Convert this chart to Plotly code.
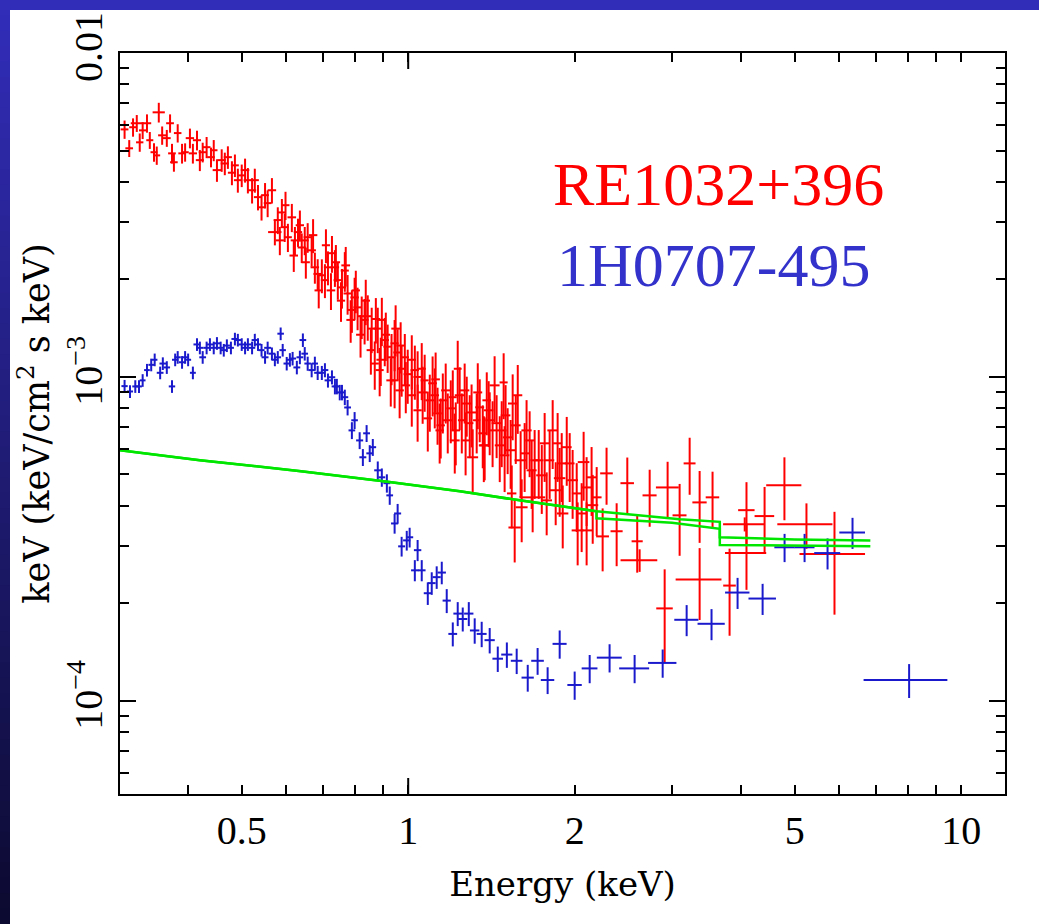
import math
import plotly.graph_objects as go

# ---------------- data ----------------
red_energy = [
    0.307, 0.313, 0.318, 0.323, 0.327, 0.331, 0.337, 0.341, 0.347, 0.351,
    0.354, 0.359, 0.366, 0.371, 0.374, 0.377, 0.383, 0.390, 0.395, 0.403,
    0.408, 0.415, 0.420, 0.425, 0.432, 0.440, 0.445, 0.451, 0.460, 0.466,
    0.472, 0.480, 0.486, 0.492, 0.500, 0.507, 0.513, 0.522, 0.528, 0.535,
    0.543, 0.551, 0.557, 0.567, 0.574, 0.581, 0.591, 0.598, 0.606, 0.616,
    0.624, 0.632, 0.642, 0.650, 0.658, 0.669, 0.678, 0.686, 0.698, 0.707,
    0.716, 0.728, 0.737, 0.746, 0.759, 0.768, 0.777, 0.791, 0.800, 0.810,
    0.824, 0.834, 0.845, 0.859, 0.870, 0.881, 0.896, 0.907, 0.918, 0.933,
    0.945, 0.957, 0.973, 0.986, 0.998, 1.015, 1.028, 1.040, 1.058, 1.071,
    1.094, 1.107, 1.130, 1.155, 1.179, 1.204, 1.229, 1.250, 1.276, 1.292,
    1.308, 1.330, 1.347, 1.364, 1.387, 1.404, 1.421, 1.445, 1.476, 1.488,
    1.513, 1.545, 1.578, 1.597, 1.624, 1.658, 1.693, 1.722, 1.765, 1.802,
    1.863, 1.895, 1.935, 1.959, 2.017, 2.059, 2.102, 2.146, 2.192,
    1.539, 1.604, 1.558, 1.679, 1.780, 1.848, 1.903, 2.025, 2.102, 2.247, 2.382,
    2.284, 2.490, 2.595, 2.621, 2.733, 2.909, 2.945, 3.096, 3.228, 3.365,
    3.365, 3.551, 3.812, 4.09, 4.09, 4.41, 4.79, 5.25, 5.90, 4.06,
    1.214, 1.265, 1.494, 1.375, 1.140, 1.117,
    0.888, 0.945, 0.965,
    1.015, 1.040, 1.062, 1.085, 1.121, 1.145, 1.169, 1.194, 1.219, 1.239,
    1.270, 1.302, 1.336, 1.370, 1.398, 1.433, 1.464, 1.500, 1.532, 1.565,
    1.637, 1.672, 1.744, 1.825, 1.879, 1.983, 2.076, 2.156,
    0.725, 0.740, 0.756, 0.771, 0.787, 0.804, 0.820, 0.838, 0.856, 0.874,
    0.892, 0.911, 0.930, 0.949, 0.969, 0.990,
    0.586, 0.600, 0.621, 0.637, 0.653, 0.673, 0.689, 0.710,
]
red_flux = [
    0.00581, 0.00508, 0.00590, 0.00607, 0.00530, 0.00577, 0.00607, 0.00538, 0.00494, 0.00483,
    0.00656, 0.00557, 0.00546, 0.00607, 0.00490, 0.00460, 0.00566, 0.00490, 0.00494, 0.00546,
    0.00490, 0.00538, 0.00467, 0.00494, 0.00512, 0.00477, 0.00501, 0.00435, 0.00467, 0.00456,
    0.00477, 0.00427, 0.00450, 0.00405, 0.00419, 0.00435, 0.00405, 0.00377, 0.00405, 0.00359,
    0.00334, 0.00364, 0.00344, 0.00377, 0.00280, 0.00305, 0.00322, 0.00290, 0.00270, 0.00311,
    0.00264, 0.00280, 0.00251, 0.00264, 0.00270, 0.00246, 0.00218, 0.00208, 0.00206, 0.00199,
    0.00218, 0.00241, 0.00218, 0.00199, 0.00189, 0.00213, 0.00181, 0.00161, 0.00176, 0.00164,
    0.00154, 0.00150, 0.00154, 0.00141, 0.00110, 0.00141, 0.00150, 0.00130, 0.00124, 0.00115,
    0.00127, 0.00119, 0.00106, 0.00115, 0.00102, 0.00113, 0.00105, 0.00100, 0.00106, 0.000976,
    0.000847, 0.000956, 0.000772, 0.000847, 0.000735, 0.000866, 0.00106, 0.000735, 0.000828, 0.000720,
    0.000565, 0.000735, 0.000806, 0.000670, 0.000847, 0.000735, 0.000684, 0.000720, 0.000684, 0.000962,
    0.000651, 0.000828, 0.000878, 0.000553, 0.000581, 0.000637, 0.000553, 0.000553, 0.000624, 0.000553,
    0.000624, 0.000541, 0.000607, 0.000541, 0.000437, 0.000379, 0.000456, 0.000490, 0.000425,
    0.000437, 0.000396, 0.000343, 0.000425, 0.000416, 0.000447, 0.000379, 0.000336, 0.000336, 0.000322, 0.000334,
    0.000504, 0.000470, 0.000311, 0.000272, 0.000431, 0.000193, 0.000456, 0.000374, 0.000541, 0.000410,
    0.000237, 0.000425, 0.000227, 0.000388, 0.000286, 0.000372, 0.000463, 0.000351, 0.000284, 0.000351,
    0.000637, 0.000909, 0.000573, 0.000615, 0.000684, 0.000878,
    0.00105, 0.000976, 0.000909,
    0.000878, 0.000789, 0.000896, 0.000745, 0.000983, 0.000709, 0.000909, 0.000800, 0.000684, 0.000878,
    0.000637, 0.000777, 0.000896, 0.000615, 0.000789, 0.000942, 0.000615, 0.000761, 0.000594, 0.000709,
    0.000684, 0.000515, 0.000497, 0.000684, 0.000487, 0.000480, 0.000546, 0.000402,
    0.00185, 0.00226, 0.00172, 0.00221, 0.00150, 0.00185, 0.00135, 0.00172, 0.00121, 0.00151,
    0.00113, 0.00135, 0.000976, 0.00141, 0.00125, 0.000942,
    0.00264, 0.00339, 0.00237, 0.00294, 0.00226, 0.00274, 0.00185, 0.00255,
]
red_energy_err = [
    0.005, 0.005, 0.005, 0.008, 0.005, 0.005, 0.006, 0.005, 0.005, 0.005,
    0.009, 0.006, 0.006, 0.006, 0.006, 0.006, 0.006, 0.006, 0.006, 0.007,
    0.007, 0.007, 0.007, 0.007, 0.007, 0.007, 0.007, 0.008, 0.008, 0.008,
    0.008, 0.008, 0.008, 0.008, 0.008, 0.009, 0.009, 0.009, 0.009, 0.009,
    0.009, 0.009, 0.009, 0.010, 0.016, 0.010, 0.010, 0.010, 0.010, 0.011,
    0.011, 0.011, 0.011, 0.011, 0.011, 0.012, 0.012, 0.012, 0.012, 0.012,
    0.012, 0.013, 0.013, 0.013, 0.013, 0.013, 0.013, 0.014, 0.014, 0.014,
    0.014, 0.014, 0.015, 0.015, 0.015, 0.015, 0.016, 0.016, 0.016, 0.016,
    0.016, 0.017, 0.017, 0.017, 0.017, 0.018, 0.018, 0.018, 0.018, 0.018,
    0.02, 0.02, 0.02, 0.02, 0.025, 0.02, 0.02, 0.02, 0.025, 0.02,
    0.03, 0.02, 0.025, 0.025, 0.025, 0.025, 0.025, 0.03, 0.03, 0.025,
    0.03, 0.03, 0.03, 0.04, 0.03, 0.03, 0.03, 0.035, 0.035, 0.035,
    0.035, 0.035, 0.04, 0.04, 0.04, 0.04, 0.04, 0.045, 0.045,
    0.03, 0.04, 0.04, 0.09, 0.04, 0.045, 0.045, 0.05, 0.05, 0.06, 0.06,
    0.06, 0.07, 0.06, 0.2, 0.08, 0.1, 0.14, 0.09, 0.08, 0.1,
    0.32, 0.1, 0.1, 0.14, 0.35, 0.18, 0.35, 0.6, 0.8, 0.35,
    0.025, 0.025, 0.03, 0.03, 0.02, 0.02,
    0.015, 0.016, 0.017,
    0.018, 0.018, 0.02, 0.02, 0.02, 0.02, 0.022, 0.022, 0.022, 0.025,
    0.025, 0.025, 0.025, 0.028, 0.028, 0.03, 0.03, 0.03, 0.032, 0.032,
    0.035, 0.035, 0.04, 0.04, 0.045, 0.045, 0.05, 0.05,
    0.013, 0.013, 0.013, 0.014, 0.014, 0.014, 0.015, 0.015, 0.015, 0.016,
    0.016, 0.016, 0.017, 0.017, 0.017, 0.018,
    0.010, 0.010, 0.011, 0.011, 0.011, 0.012, 0.012, 0.012,
]
red_flux_relerr = [
    0.065, 0.06, 0.065, 0.06, 0.065, 0.06, 0.065, 0.06, 0.065, 0.065,
    0.07, 0.065, 0.06, 0.065, 0.07, 0.065, 0.065, 0.07, 0.065, 0.07,
    0.07, 0.07, 0.075, 0.07, 0.075, 0.07, 0.075, 0.08, 0.08, 0.08,
    0.08, 0.085, 0.08, 0.085, 0.08, 0.085, 0.09, 0.09, 0.085, 0.09,
    0.09, 0.09, 0.095, 0.09, 0.09, 0.095, 0.1, 0.1, 0.1, 0.1,
    0.1, 0.1, 0.105, 0.1, 0.105, 0.11, 0.11, 0.11, 0.12, 0.12,
    0.12, 0.13, 0.13, 0.13, 0.14, 0.14, 0.14, 0.15, 0.15, 0.15,
    0.15, 0.16, 0.16, 0.16, 0.17, 0.16, 0.17, 0.17, 0.17, 0.18,
    0.18, 0.18, 0.18, 0.18, 0.19, 0.19, 0.19, 0.2, 0.2, 0.2,
    0.2, 0.21, 0.2, 0.21, 0.21, 0.21, 0.22, 0.21, 0.21, 0.22,
    0.22, 0.21, 0.22, 0.22, 0.22, 0.22, 0.23, 0.22, 0.23, 0.23,
    0.23, 0.23, 0.24, 0.23, 0.24, 0.23, 0.24, 0.24, 0.24, 0.24,
    0.24, 0.24, 0.24, 0.24, 0.24, 0.24, 0.24, 0.24, 0.24,
    0.22, 0.22, 0.22, 0.22, 0.22, 0.22, 0.22, 0.22, 0.22, 0.22, 0.22,
    0.2, 0.2, 0.2, 0.08, 0.2, 0.32, 0.2, 0.25, 0.2, 0.25,
    0.25, 0.2, 0.3, 0.22, 0.23, 0.23, 0.22, 0.16, 0.35, 0.05,
    0.21, 0.21, 0.23, 0.22, 0.21, 0.21,
    0.17, 0.18, 0.18,
    0.2, 0.2, 0.2, 0.21, 0.21, 0.21, 0.21, 0.22, 0.22, 0.22,
    0.22, 0.22, 0.23, 0.23, 0.23, 0.23, 0.23, 0.24, 0.24, 0.24,
    0.24, 0.24, 0.24, 0.24, 0.24, 0.24, 0.24, 0.24,
    0.13, 0.13, 0.14, 0.14, 0.15, 0.15, 0.15, 0.16, 0.16, 0.16,
    0.17, 0.17, 0.17, 0.18, 0.18, 0.18,
    0.1, 0.1, 0.11, 0.11, 0.11, 0.12, 0.12, 0.12,
]

blue_energy = [
    0.307, 0.314, 0.321, 0.326, 0.331, 0.337, 0.343, 0.348, 0.356, 0.360,
    0.366, 0.374, 0.379, 0.383, 0.390, 0.395, 0.400, 0.408, 0.415, 0.420,
    0.425, 0.432, 0.438, 0.445, 0.451, 0.458, 0.464, 0.470, 0.478, 0.486,
    0.492, 0.500, 0.507, 0.513, 0.522, 0.528, 0.535, 0.543, 0.551, 0.557,
    0.567, 0.574, 0.581, 0.588, 0.593, 0.603, 0.611, 0.618, 0.629, 0.637,
    0.645, 0.650, 0.658, 0.669, 0.678, 0.686, 0.698, 0.707, 0.716, 0.728,
    0.737, 0.743, 0.752, 0.759, 0.768, 0.777, 0.791, 0.800, 0.817, 0.828,
    0.841, 0.852, 0.863, 0.881, 0.896, 0.915, 0.926, 0.945, 0.957, 0.973,
    0.994, 1.006, 1.028, 1.040, 1.058, 1.085, 1.103, 1.126, 1.150, 1.174,
    1.204, 1.229, 1.255, 1.287, 1.319, 1.358, 1.404, 1.452, 1.508, 1.571,
    1.645, 1.714, 1.787, 1.879, 2.000, 2.129, 2.313, 2.567, 2.885, 3.188,
    3.536, 3.941, 4.374, 4.793, 5.209, 5.732, 6.360, 8.05,
]
blue_flux = [
    0.000937, 0.000902, 0.000935, 0.000935, 0.000976, 0.00105, 0.00109, 0.00113, 0.00103, 0.00110,
    0.00107, 0.000935, 0.00113, 0.00115, 0.00111, 0.00115, 0.00113, 0.00103, 0.00126, 0.00123,
    0.00115, 0.00123, 0.00126, 0.00123, 0.00127, 0.00123, 0.00121, 0.00125, 0.00123, 0.00131,
    0.00130, 0.00126, 0.00123, 0.00126, 0.00123, 0.00130, 0.00126, 0.00121, 0.00115, 0.00123,
    0.00118, 0.00113, 0.00115, 0.00136, 0.00121, 0.00110, 0.00113, 0.00114, 0.00107, 0.00115,
    0.00130, 0.00118, 0.00110, 0.00105, 0.00110, 0.00103, 0.00103, 0.00105, 0.000976, 0.000998,
    0.000935, 0.000935, 0.000896, 0.000896, 0.000866, 0.000805, 0.000684, 0.000735, 0.000637, 0.000565,
    0.000670, 0.000581, 0.000607, 0.000515, 0.000490, 0.000470, 0.000431, 0.000353, 0.000379, 0.000300,
    0.000313, 0.000320, 0.000253, 0.000292, 0.000253, 0.000215, 0.000231, 0.000241, 0.000249, 0.000204,
    0.000161, 0.000186, 0.000179, 0.000186, 0.000165, 0.000161, 0.000154, 0.000135, 0.000139, 0.000133,
    0.000118, 0.000133, 0.000116, 0.000150, 0.000112, 0.000126, 0.000136, 0.000126, 0.000131, 0.000178,
    0.000173, 0.000216, 0.000207, 0.000298, 0.000298, 0.000286, 0.000331, 0.000116,
]
blue_energy_err = [
    0.004, 0.004, 0.004, 0.004, 0.004, 0.004, 0.004, 0.004, 0.005, 0.005,
    0.005, 0.005, 0.005, 0.005, 0.005, 0.005, 0.005, 0.005, 0.006, 0.006,
    0.006, 0.006, 0.006, 0.006, 0.006, 0.006, 0.006, 0.006, 0.006, 0.007,
    0.007, 0.007, 0.007, 0.007, 0.007, 0.007, 0.007, 0.007, 0.008, 0.008,
    0.008, 0.008, 0.008, 0.008, 0.008, 0.008, 0.008, 0.009, 0.009, 0.009,
    0.009, 0.009, 0.009, 0.009, 0.009, 0.010, 0.010, 0.010, 0.010, 0.010,
    0.010, 0.010, 0.010, 0.010, 0.011, 0.011, 0.011, 0.011, 0.012, 0.012,
    0.012, 0.012, 0.012, 0.013, 0.013, 0.013, 0.013, 0.014, 0.014, 0.014,
    0.015, 0.015, 0.016, 0.016, 0.017, 0.018, 0.018, 0.019, 0.020, 0.020,
    0.022, 0.022, 0.024, 0.025, 0.026, 0.028, 0.030, 0.032, 0.035, 0.038,
    0.042, 0.045, 0.050, 0.055, 0.060, 0.070, 0.12, 0.16, 0.17, 0.16,
    0.20, 0.20, 0.25, 0.20, 0.22, 0.31, 0.34, 1.39,
]
blue_flux_relerr = [
    0.045, 0.045, 0.045, 0.045, 0.045, 0.045, 0.045, 0.045, 0.045, 0.045,
    0.045, 0.045, 0.045, 0.045, 0.045, 0.045, 0.045, 0.045, 0.045, 0.045,
    0.045, 0.045, 0.045, 0.045, 0.045, 0.045, 0.045, 0.045, 0.045, 0.045,
    0.045, 0.045, 0.045, 0.045, 0.045, 0.045, 0.045, 0.045, 0.045, 0.045,
    0.045, 0.045, 0.045, 0.045, 0.045, 0.048, 0.048, 0.048, 0.048, 0.048,
    0.048, 0.048, 0.050, 0.050, 0.050, 0.050, 0.050, 0.050, 0.050, 0.050,
    0.055, 0.055, 0.055, 0.055, 0.055, 0.055, 0.060, 0.060, 0.060, 0.060,
    0.060, 0.060, 0.060, 0.065, 0.065, 0.065, 0.065, 0.070, 0.070, 0.070,
    0.070, 0.070, 0.075, 0.075, 0.075, 0.080, 0.080, 0.080, 0.080, 0.085,
    0.085, 0.085, 0.085, 0.085, 0.090, 0.090, 0.090, 0.090, 0.090, 0.090,
    0.095, 0.095, 0.095, 0.10, 0.10, 0.10, 0.10, 0.10, 0.10, 0.11,
    0.11, 0.11, 0.11, 0.10, 0.10, 0.11, 0.11, 0.12,
]

model_a_energy = [0.30, 0.42, 0.64, 0.91, 1.24, 1.59, 2.19, 2.60, 3.10, 3.66, 3.66, 5.0, 6.85]
model_a_flux = [0.000594, 0.000553, 0.000512, 0.000476, 0.000444, 0.000416, 0.000385,
                0.000374, 0.000364, 0.000357, 0.000320, 0.000315, 0.000313]
model_b_energy = [0.30, 0.42, 0.64, 0.91, 1.24, 1.59, 2.19, 2.19, 3.0, 3.66, 3.66, 5.0, 6.85]
model_b_flux = [0.000594, 0.000553, 0.000512, 0.000476, 0.000444, 0.000416, 0.000385,
                0.000366, 0.000355, 0.000340, 0.000303, 0.000301, 0.000300]

x_tick_values = [0.5, 1, 2, 5, 10]
x_tick_labels = ["0.5", "1", "2", "5", "10"]
x_minor_values = [0.4, 0.6, 0.7, 0.8, 0.9, 3, 4, 6, 7, 8, 9]
x_decades = [1, 10]
y_tick_values = [1e-4, 1e-3, 1e-2]
y_tick_labels = ["10<sup>\u22124</sup>", "10<sup>\u22123</sup>", "0.01"]
y_minor_values = [5e-5, 6e-5, 7e-5, 8e-5, 9e-5,
                  2e-4, 3e-4, 4e-4, 5e-4, 6e-4, 7e-4, 8e-4, 9e-4,
                  2e-3, 3e-3, 4e-3, 5e-3, 6e-3, 7e-3, 8e-3, 9e-3]

# ---------------- layout constants ----------------
W, H = 1039, 924
ML, MR, MT, MB = 120, 34, 53, 130
PW, PH = W - ML - MR, H - MT - MB

RED = "#ff0000"
BLUE = "#1a1acc"
GREEN = "#00e600"
LABEL_BLUE = "#3333cc"


def px_x(px):
    return (px - ML) / PW


def px_y(py):
    return 1 - (py - MT) / PH


fig = go.Figure()


def add_series(energy, flux, eerr, ferr, color):
    up = [f * r for f, r in zip(flux, ferr)]
    fig.add_trace(go.Scatter(
        x=energy, y=flux, mode="markers",
        marker=dict(size=1, color=color),
        error_x=dict(type="data", array=eerr, color=color, thickness=2, width=0),
        error_y=dict(type="data", array=up, arrayminus=up, color=color, thickness=2, width=0),
        showlegend=False, hoverinfo="skip",
    ))


add_series(red_energy, red_flux, red_energy_err, red_flux_relerr, RED)
add_series(blue_energy, blue_flux, blue_energy_err, blue_flux_relerr, BLUE)

for ex, fy in ((model_a_energy, model_a_flux), (model_b_energy, model_b_flux)):
    fig.add_trace(go.Scatter(x=ex, y=fy, mode="lines",
                             line=dict(color=GREEN, width=2.5),
                             showlegend=False, hoverinfo="skip"))

shapes = []
# blue slide border: top band and left gradient strip
shapes.append(dict(type="rect", xref="paper", yref="paper", layer="below",
                   x0=px_x(0), x1=px_x(W), y0=px_y(0), y1=px_y(10),
                   line=dict(width=0), fillcolor="rgb(50,45,185)"))
N = 60
c0 = (50, 45, 185)
c1 = (12, 10, 48)
for i in range(N):
    t = i / (N - 1)
    col = tuple(round(c0[k] + (c1[k] - c0[k]) * t) for k in range(3))
    shapes.append(dict(type="rect", xref="paper", yref="paper", layer="below",
                       x0=px_x(0), x1=px_x(10),
                       y0=px_y(H * i / N), y1=px_y(H * (i + 1) / N + 1),
                       line=dict(width=0), fillcolor="rgb(%d,%d,%d)" % col))
# long decade ticks on x axis (bottom and top)
for v in x_decades:
    lv = math.log10(v)
    shapes.append(dict(type="line", xref="x", yref="paper", ysizemode="pixel",
                       yanchor=0, x0=lv, x1=lv, y0=0, y1=16,
                       line=dict(color="black", width=2)))
    shapes.append(dict(type="line", xref="x", yref="paper", ysizemode="pixel",
                       yanchor=1, x0=lv, x1=lv, y0=0, y1=-16,
                       line=dict(color="black", width=2)))

axis_common = dict(
    showline=True, linecolor="black", linewidth=2, mirror="ticks",
    ticks="inside", tickcolor="black", tickwidth=2,
    showgrid=False, zeroline=False, automargin=False,
    tickfont=dict(family="Liberation Serif", size=40, color="black"),
)

fig.update_layout(
    template="none",
    width=W, height=H,
    font=dict(family="Liberation Serif", size=40, color="black"),
    margin=dict(l=ML, r=MR, t=MT, b=MB, pad=0),
    paper_bgcolor="white", plot_bgcolor="white",
    shapes=shapes,
    xaxis=dict(
        type="log", range=[math.log10(0.3012), math.log10(12.0)],
        tickmode="array", tickvals=x_tick_values, ticktext=x_tick_labels,
        ticklen=9,
        minor=dict(ticks="inside", ticklen=9, tickwidth=2, tickcolor="black",
                   tickmode="array", tickvals=x_minor_values, showgrid=False),
        title=dict(text="Energy (keV)", standoff=20,
                   font=dict(family="DejaVu Serif", size=34, color="black")),
        **axis_common,
    ),
    yaxis=dict(
        type="log", range=[math.log10(5.16e-5), -2],
        tickmode="array", tickvals=y_tick_values, ticktext=y_tick_labels,
        ticklen=16, tickangle=-90,
        minor=dict(ticks="inside", ticklen=9, tickwidth=2, tickcolor="black",
                   tickmode="array", tickvals=y_minor_values, showgrid=False),
        title=dict(text="keV (keV/cm<sup>2</sup> s keV)", standoff=0,
                   font=dict(family="DejaVu Serif", size=35, color="black")),
        **axis_common,
    ),
    annotations=[
        dict(text="RE1032+396", xref="paper", yref="paper",
             x=px_x(551), y=px_y(220), xanchor="left", yanchor="bottom",
             showarrow=False,
             font=dict(family="Liberation Serif", size=62, color=RED)),
        dict(text="1H0707-495", xref="paper", yref="paper",
             x=px_x(555), y=px_y(301), xanchor="left", yanchor="bottom",
             showarrow=False,
             font=dict(family="Liberation Serif", size=62, color=LABEL_BLUE)),
    ],
)

fig.write_html("out.html", config={"displayModeBar": False})
